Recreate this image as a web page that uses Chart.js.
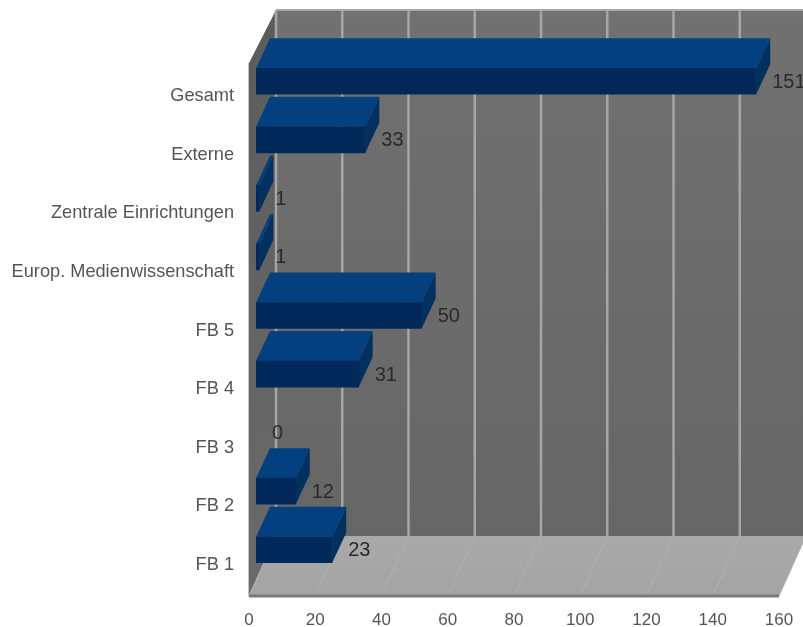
<!DOCTYPE html>
<html>
<head>
<meta charset="utf-8">
<title>Chart</title>
<script src="https://cdn.jsdelivr.net/npm/chart.js@4/dist/chart.umd.min.js"></script>
<style>
    html, body { margin: 0; padding: 0; background: #fff; }
    canvas { display: block; }
</style>
</head>
<body>
<canvas id="barChart" width="803" height="627"></canvas>
<script>
const categories = ['Gesamt', 'Externe', 'Zentrale Einrichtungen', 'Europ. Medienwissenschaft', 'FB 5', 'FB 4', 'FB 3', 'FB 2', 'FB 1'];
const values = [151, 33, 1, 1, 50, 31, 0, 12, 23];
const xTicks = [0, 20, 40, 60, 80, 100, 120, 140, 160];

function poly(ctx, pts, fill) {
    ctx.beginPath();
    pts.forEach(function(p, i) {
        if (i === 0) ctx.moveTo(p[0], p[1]);
        else ctx.lineTo(p[0], p[1]);
    });
    ctx.closePath();
    ctx.fillStyle = fill;
    ctx.fill();
}

function vGrad(ctx, y0, y1, a, b) {
    const g = ctx.createLinearGradient(0, y0, 0, y1);
    g.addColorStop(0, a);
    g.addColorStop(1, b);
    return g;
}

// back wall, side wall and floor, hung off the x scale
const roomPlugin = {
    id: 'room',
    beforeDatasetsDraw(chart) {
        const ctx = chart.ctx;
        const x = chart.scales.x;
        const shift = -7, dx = 27;
        const left = x.getPixelForValue(0) + shift;
        const right = x.getPixelForValue(160) + shift;
        const wallTop = 10, wallBack = 536, frontTop = 63, frontBottom = 596;

        ctx.save();
        poly(ctx, [[left + dx, wallTop], [right + dx, wallTop], [right + dx, wallBack], [left + dx, wallBack]],
            vGrad(ctx, wallTop, wallBack, '#717171', '#666666'));
        poly(ctx, [[left, frontTop], [left + dx, wallTop], [left + dx, wallBack], [left, frontBottom]],
            vGrad(ctx, wallTop, frontBottom, '#5c5c5c', '#6a6a6a'));
        poly(ctx, [[left, frontBottom], [right, frontBottom], [right + dx, wallBack], [left + dx, wallBack]],
            vGrad(ctx, wallBack, frontBottom, '#a9a9a9', '#a4a4a4'));

        // grid on wall and floor
        xTicks.forEach(function(t) {
            const px = x.getPixelForValue(t) + shift;
            ctx.strokeStyle = '#a6a6a6';
            ctx.lineWidth = 2.5;
            ctx.beginPath();
            ctx.moveTo(px + dx, wallTop);
            ctx.lineTo(px + dx, wallBack);
            ctx.stroke();
            ctx.strokeStyle = '#b2b2b2';
            ctx.lineWidth = 1;
            ctx.beginPath();
            ctx.moveTo(px + dx, wallBack);
            ctx.lineTo(px, frontBottom);
            ctx.stroke();
        });

        // room edges
        ctx.lineWidth = 2;
        ctx.strokeStyle = '#a8a8a8';
        ctx.beginPath();
        ctx.moveTo(left + dx, wallTop);
        ctx.lineTo(right + dx, wallTop);
        ctx.stroke();
        ctx.strokeStyle = '#7a7a7a';
        ctx.lineWidth = 3;
        ctx.beginPath();
        ctx.moveTo(left, frontBottom);
        ctx.lineTo(right, frontBottom);
        ctx.stroke();
        ctx.strokeStyle = '#c4c4c4';
        ctx.lineWidth = 1;
        ctx.beginPath();
        ctx.moveTo(left - 0.5, frontTop);
        ctx.lineTo(left - 0.5, frontBottom);
        ctx.stroke();

        // top and side of each bar, the library draws the front
        const depthX = 14, depthY = 30;
        chart.getDatasetMeta(0).data.forEach(function(bar, i) {
            if (!values[i]) return;
            const l = bar.base, r = bar.x, t = bar.y - 13, b = bar.y + 13;
            poly(ctx, [[l, t], [l + depthX, t - depthY], [r + depthX, t - depthY], [r, t]], '#03407f');
            poly(ctx, [[r, t], [r + depthX, t - depthY], [r + depthX, b - depthY], [r, b]], '#02305f');
        });
        ctx.restore();
    },
    afterDatasetsDraw(chart) {
        const ctx = chart.ctx;
        ctx.save();
        ctx.font = '20px "Liberation Sans"';
        ctx.fillStyle = '#2a2a2a';
        ctx.textAlign = 'left';
        ctx.textBaseline = 'middle';
        chart.getDatasetMeta(0).data.forEach(function(bar, i) {
            ctx.fillText(String(values[i]), bar.x + 16, bar.y + 1);
        });
        ctx.restore();
    }
};

new Chart(document.getElementById('barChart'), {
    type: 'bar',
    data: {
        labels: categories,
        datasets: [{
            data: values,
            backgroundColor: function(c) { return values[c.dataIndex] ? '#02295a' : 'transparent'; },
            borderWidth: 0,
            barThickness: 26
        }]
    },
    options: {
        indexAxis: 'y',
        responsive: false,
        animation: false,
        layout: { padding: { top: 52, right: 17 } },
        plugins: {
            legend: { display: false },
            tooltip: { enabled: false }
        },
        scales: {
            x: {
                min: 0,
                max: 160,
                afterFit: function(s) {
                    s.height = 48;
                    s.paddingLeft = 0;
                    s.paddingRight = 0;
                },
                afterBuildTicks: function(s) { s.ticks = xTicks.map(function(v) { return { value: v }; }); },
                grid: { display: false },
                border: { display: false },
                ticks: {
                    color: '#555555',
                    font: { family: 'Liberation Sans', size: 17 },
                    maxRotation: 0,
                    padding: 23,
                    labelOffset: -7
                }
            },
            y: {
                afterFit: function(s) { s.width = 256; },
                grid: { display: false, drawTicks: false },
                border: { display: false },
                ticks: {
                    color: '#555555',
                    font: { family: 'Liberation Sans', size: 18.2 },
                    padding: 22,
                    labelOffset: 15
                }
            }
        }
    },
    plugins: [roomPlugin]
});
</script>
</body>
</html>
